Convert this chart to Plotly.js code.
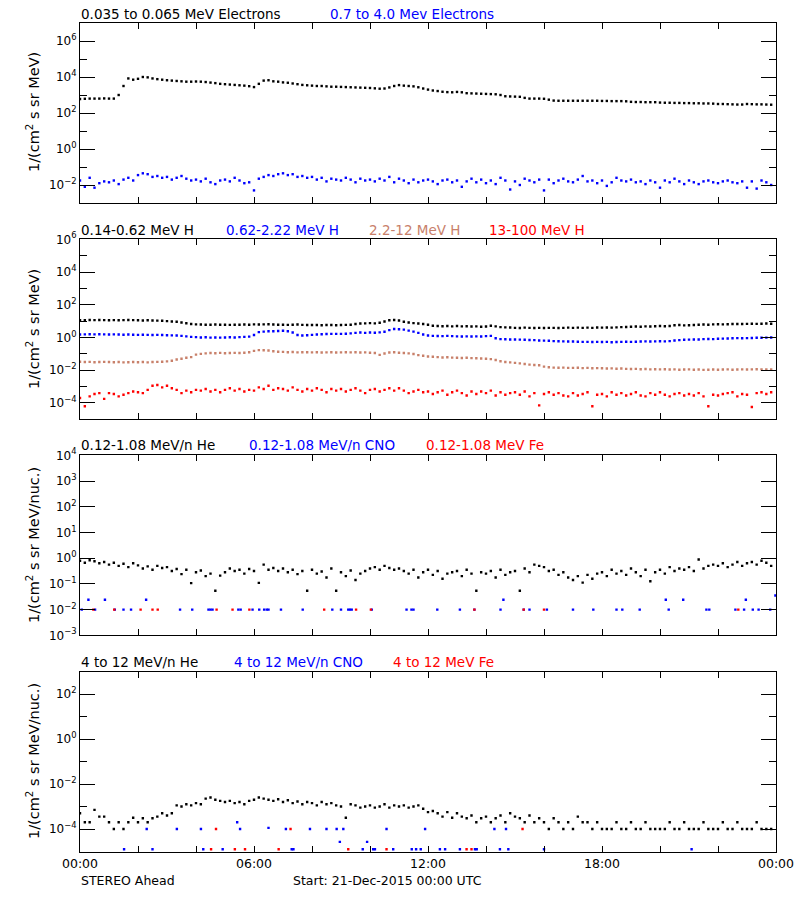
<!DOCTYPE html>
<html>
<head>
<meta charset="utf-8">
<script src="https://cdn.plot.ly/plotly-3.0.1.min.js"></script>
<style>html,body{margin:0;padding:0;background:#fff;}#chart{width:800px;height:900px;}</style>
</head>
<body>
<div id="chart"></div>
<script>
// ---- time grid: 10-minute samples, hours since 21-Dec-2015 00:00 UTC ----
const hours = Array.from({length: 144}, (_, i) => i / 6);

// ---- Panel 1: electrons, log10 flux ----
const eLowLog = [
 2.78,2.79,2.80,2.80,2.80,2.81, 2.80,2.80,3.00,3.50,3.92,3.85,
 3.90,4.00,3.98,3.92,3.88,3.85, 3.82,3.80,3.78,3.76,3.74,3.74,
 3.75,3.74,3.72,3.69,3.66,3.62, 3.60,3.58,3.56,3.54,3.52,3.49,
 3.44,3.62,3.80,3.82,3.76,3.74, 3.70,3.68,3.64,3.60,3.56,3.54,
 3.52,3.50,3.50,3.48,3.46,3.46, 3.45,3.44,3.43,3.42,3.41,3.40,
 3.39,3.37,3.35,3.36,3.42,3.50, 3.55,3.52,3.50,3.48,3.43,3.36,
 3.30,3.25,3.22,3.18,3.16,3.15, 3.17,3.15,3.10,3.09,3.08,3.07,
 3.06,3.05,3.04,3.00,2.93,2.92, 2.91,2.90,2.84,2.80,2.80,2.80,
 2.79,2.74,2.69,2.68,2.68,2.68, 2.68,2.68,2.68,2.68,2.68,2.68,
 2.67,2.67,2.66,2.66,2.66,2.65, 2.62,2.61,2.61,2.60,2.60,2.60,
 2.58,2.57,2.57,2.56,2.56,2.55, 2.55,2.54,2.54,2.53,2.53,2.52,
 2.50,2.50,2.49,2.48,2.47,2.47, 2.50,2.49,2.48,2.48,2.47,2.46
];
const eHighLog = [
 -1.75,-2.10,-1.60,-2.15,-1.90,-1.80, -1.85,-1.75,-1.95,-1.70,-1.60,-1.75,
 -1.45,-1.35,-1.40,-1.55,-1.50,-1.60, -1.55,-1.70,-1.60,-1.50,-1.65,-1.75,
 -1.70,-1.80,-1.65,-1.85,-1.95,-1.75, -1.70,-1.80,-1.60,-1.75,-1.90,-1.85,
 -2.30,-1.65,-1.55,-1.45,-1.50,-1.40, -1.35,-1.45,-1.40,-1.55,-1.50,-1.60,
 -1.55,-1.70,-1.60,-1.80,-1.65,-1.70, -1.75,-1.60,-1.70,-1.85,-1.65,-1.75,
 -1.70,-1.80,-1.65,-1.75,-1.55,-1.85, -1.65,-1.75,-1.90,-1.70,-1.85,-1.75,
 -1.70,-1.80,-1.95,-1.75,-1.70,-1.85, -1.75,-2.10,-1.80,-1.65,-1.85,-1.70,
 -1.90,-1.75,-1.95,-1.60,-1.75,-2.25, -1.80,-2.00,-1.65,-1.75,-1.85,-1.70,
 -2.30,-1.70,-1.90,-1.75,-1.65,-1.80, -1.85,-1.70,-1.50,-1.80,-1.75,-1.90,
 -1.75,-2.05,-1.85,-1.60,-1.75,-1.80, -1.70,-1.85,-1.80,-1.95,-1.75,-1.85,
 -2.15,-1.75,-1.85,-1.65,-1.80,-1.95, -1.75,-1.85,-1.95,-1.80,-1.75,-1.85,
 -1.90,-1.80,-1.75,-1.85,-1.90,-1.80, -2.15,-1.80,-2.20,-1.75,-1.85,-2.00
];

// ---- Panel 2: protons, log10 flux ----
const h1Log = [
 1.05,1.06,1.07,1.06,1.07,1.06, 1.05,1.06,1.05,1.06,1.07,1.06,
 1.05,1.04,1.05,1.04,1.03,1.02, 1.00,0.98,0.96,0.92,0.87,0.82,
 0.80,0.79,0.78,0.78,0.79,0.78, 0.78,0.77,0.78,0.78,0.79,0.78,
 0.80,0.79,0.80,0.81,0.79,0.78, 0.78,0.77,0.78,0.79,0.77,0.76,
 0.76,0.76,0.75,0.76,0.76,0.75, 0.76,0.77,0.78,0.82,0.85,0.86,
 0.88,0.86,0.90,0.98,1.05,1.07, 1.04,0.96,0.92,0.88,0.85,0.82,
 0.78,0.72,0.70,0.69,0.70,0.68, 0.70,0.68,0.69,0.67,0.68,0.66,
 0.67,0.72,0.68,0.63,0.62,0.61, 0.59,0.58,0.60,0.59,0.58,0.59,
 0.58,0.59,0.59,0.58,0.59,0.60, 0.59,0.60,0.59,0.60,0.59,0.61,
 0.60,0.61,0.60,0.62,0.63,0.64, 0.66,0.67,0.66,0.68,0.67,0.69,
 0.70,0.69,0.70,0.75,0.76,0.74, 0.75,0.76,0.78,0.79,0.78,0.80,
 0.81,0.80,0.81,0.82,0.82,0.82, 0.83,0.84,0.83,0.84,0.85,0.84
];
const h2Log = [
 0.18,0.19,0.20,0.19,0.20,0.19, 0.18,0.19,0.18,0.17,0.18,0.17,
 0.16,0.17,0.16,0.15,0.16,0.15, 0.14,0.13,0.12,0.10,0.07,0.04,
 0.02,0.00,0.01,-0.01,0.00,-0.01, 0.00,0.01,0.00,0.02,0.04,0.05,
 0.15,0.33,0.36,0.38,0.38,0.40, 0.41,0.38,0.30,0.15,0.12,0.14,
 0.16,0.18,0.20,0.21,0.22,0.22, 0.22,0.23,0.25,0.28,0.30,0.28,
 0.30,0.29,0.31,0.35,0.45,0.52, 0.50,0.48,0.42,0.36,0.28,0.18,
 0.12,0.10,0.09,0.08,0.10,0.08, 0.07,0.06,0.07,0.06,0.07,0.06,
 0.08,0.10,-0.05,-0.10,-0.11,-0.12, -0.12,-0.13,-0.14,-0.15,-0.16,-0.18,
 -0.19,-0.20,-0.22,-0.23,-0.24,-0.25, -0.25,-0.26,-0.27,-0.27,-0.28,-0.27,
 -0.28,-0.27,-0.29,-0.28,-0.27,-0.26, -0.27,-0.26,-0.25,-0.24,-0.25,-0.24,
 -0.23,-0.24,-0.22,-0.18,-0.16,-0.14, -0.13,-0.12,-0.12,-0.10,-0.09,-0.10,
 -0.08,-0.07,-0.06,-0.05,-0.04,-0.05, -0.04,-0.03,-0.02,-0.02,-0.01,0.00
];
const h3Log = [
 -1.48,-1.50,-1.49,-1.51,-1.50,-1.49, -1.50,-1.51,-1.50,-1.52,-1.51,-1.50,
 -1.51,-1.50,-1.52,-1.50,-1.49,-1.48, -1.46,-1.42,-1.35,-1.30,-1.24,-1.20,
 -1.05,-1.00,-0.97,-0.95,-0.96,-0.94, -0.96,-0.95,-0.94,-0.95,-0.93,-0.90,
 -0.82,-0.77,-0.78,-0.80,-0.84,-0.87, -0.88,-0.90,-0.89,-0.91,-0.90,-0.90,
 -0.91,-0.90,-0.92,-0.91,-0.90,-0.92, -0.91,-0.90,-0.91,-0.90,-0.92,-0.91,
 -0.93,-0.95,-1.06,-0.98,-0.92,-0.90, -0.93,-0.95,-0.97,-1.01,-1.08,-1.12,
 -1.16,-1.18,-1.20,-1.22,-1.21,-1.23, -1.24,-1.25,-1.24,-1.26,-1.27,-1.28,
 -1.30,-1.32,-1.38,-1.45,-1.50,-1.52, -1.55,-1.58,-1.62,-1.66,-1.68,-1.70,
 -1.78,-1.82,-1.84,-1.85,-1.84,-1.86, -1.86,-1.85,-1.87,-1.86,-1.88,-1.87,
 -1.88,-1.90,-1.89,-1.91,-1.90,-1.92, -1.93,-1.92,-1.94,-1.93,-1.95,-1.94,
 -1.95,-1.94,-1.96,-1.95,-1.97,-1.96, -1.95,-1.97,-1.96,-1.98,-1.97,-1.96,
 -1.97,-1.96,-1.95,-1.97,-1.96,-1.95, -1.96,-1.95,-1.94,-1.95,-1.96,-1.95
];
const h4Log = [
 -3.70,-4.20,-3.60,-3.45,-3.40,-3.75, -3.40,-3.45,-3.60,-3.50,-3.40,-3.30,
 -3.35,-3.40,-3.20,-2.95,-2.90,-3.05, -2.95,-3.10,-3.20,-3.40,-3.25,-3.35,
 -3.20,-3.25,-3.15,-3.30,-3.20,-3.35, -3.20,-3.10,-3.25,-3.15,-3.30,-3.20,
 -3.25,-3.05,-3.15,-2.95,-3.20,-3.10, -3.15,-3.25,-3.05,-3.20,-3.30,-3.15,
 -3.25,-3.10,-3.20,-3.35,-3.15,-3.25, -3.15,-3.30,-3.20,-3.10,-3.25,-3.40,
 -3.20,-3.15,-3.30,-3.20,-3.10,-3.25, -3.10,-3.25,-3.40,-3.30,-3.20,-3.35,
 -3.30,-3.45,-3.35,-3.25,-3.50,-3.35, -3.25,-3.40,-3.55,-3.30,-3.45,-3.30,
 -3.40,-3.25,-3.55,-3.35,-3.50,-3.40, -3.35,-3.50,-3.30,-3.60,-3.40,-4.15,
 -3.45,-3.35,-3.50,-3.40,-3.55,-3.60, -3.40,-3.55,-3.45,-3.35,-4.20,-3.50,
 -3.45,-3.60,-3.35,-3.50,-3.40,-3.55, -3.45,-3.35,-3.55,-3.60,-3.40,-3.50,
 -3.35,-3.50,-3.60,-3.45,-3.40,-3.55, -3.45,-3.55,-3.40,-3.60,-4.20,-3.50,
 -3.55,-3.45,-3.40,-3.35,-3.60,-3.45, -3.50,-4.25,-3.40,-3.35,-3.45,-3.35
];

// ---- Panel 3: 0.12-1.08 MeV/n ions, log10 flux ----
const heLowLog = [
 -0.10,-0.18,-0.08,-0.12,-0.20,-0.15, -0.25,-0.18,-0.30,-0.22,-0.35,-0.20,
 -0.28,-0.40,-0.32,-0.45,-0.30,-0.38, -0.35,-0.50,-0.42,-0.62,-0.45,-0.97,
 -0.55,-0.48,-0.70,-0.60,-1.27,-0.68, -0.55,-0.40,-0.50,-0.45,-0.60,-0.42,
 -0.50,-0.96,-0.25,-0.45,-0.38,-0.50, -0.40,-0.55,-0.45,-0.62,-0.50,-1.27,
 -0.45,-0.60,-0.52,-0.75,-0.40,-1.27, -0.55,-0.70,-0.48,-0.85,-0.60,-0.50,
 -0.40,-0.35,-0.45,-0.30,-0.38,-0.45, -0.40,-0.50,-0.60,-0.45,-0.75,-0.55,
 -0.45,-0.65,-0.50,-0.80,-0.60,-0.55, -0.50,-0.70,-0.45,-0.60,-1.27,-0.55,
 -0.60,-0.50,-0.75,-0.45,-0.65,-0.55, -0.50,-1.27,-0.40,-0.55,-0.25,-0.30,
 -0.35,-0.50,-0.45,-0.65,-0.55,-0.75, -0.85,-0.70,-0.95,-0.65,-0.80,-0.60,
 -0.55,-0.70,-0.45,-0.60,-0.50,-0.65, -0.40,-0.55,-0.70,-0.45,-0.90,-0.55,
 -0.45,-0.60,-0.35,-0.50,-0.40,-0.45, -0.35,-0.50,-0.05,-0.40,-0.30,-0.25,
 -0.30,-0.20,-0.35,-0.25,-0.15,-0.30, -0.20,-0.15,-0.25,-0.10,-0.18,-0.30
];
const cnoLowTimes = [
 0.06,0.29,0.52,0.86,1.20,1.50,1.76,2.28,
 3.45,3.87,4.43,4.50,4.57,5.46,5.54,5.95,
 6.18,6.35,6.44,6.50,6.93,7.68,8.70,9.00,
 9.25,9.31,9.37,10.06,11.26,11.43,11.50,12.32,
 13.10,13.60,14.50,14.60,15.30,15.50,16.10,17.00,
 17.70,18.50,18.70,19.30,20.20,20.30,20.80,21.60,
 21.70,22.60,22.90,22.96,23.20,23.40,23.80,23.98
];
const cnoLowLog = [
 -2,-1.62,-2,-1.62,-2,-2,-2,-1.62,
 -2,-2,-2,-2,-2,-2,-2,-2,
 -2,-2,-2,-2,-2,-2,-2,-2,
 -2,-2,-2,-2,-2,-2,-2,-2,
 -2,-2,-2,-1.62,-2,-2,-2,-2,
 -2,-2,-2,-2,-1.62,-2,-1.62,-2,
 -2,-2,-2,-1.62,-2,-2,-2,-1.45
];
const feLowTimes = [0.46,1.18,2.09,2.50,2.68,4.71,5.26,5.84,8.42,9.52,10.03,13.60,15.30,16.00,22.70];
const feLowLog   = [-2,-2,-2,-2,-2,-2,-2,-2,-2,-2,-2,-2,-2,-2,-2];

// ---- Panel 4: 4-12 MeV/n ions, log10 flux ----
const heHighLog = [
 -3.30,-3.70,-3.70,-3.15,-3.45,-3.45, -3.70,-4.00,-3.70,-4.00,-3.70,-3.50,
 -3.70,-3.52,-3.70,-3.52,-3.45,-3.30, -3.40,-3.30,-2.95,-3.00,-2.90,-2.95,
 -2.85,-2.90,-2.65,-2.60,-2.70,-2.75, -2.80,-2.75,-2.85,-2.80,-2.90,-2.75,
 -2.70,-2.60,-2.65,-2.70,-2.75,-2.68, -2.80,-2.72,-2.85,-2.78,-2.90,-2.80,
 -2.85,-2.95,-2.80,-2.90,-2.85,-2.95, -3.00,-3.50,-2.90,-2.95,-3.05,-3.00,
 -2.95,-3.05,-3.00,-2.90,-3.05,-2.95, -3.00,-2.95,-3.05,-3.00,-2.95,-3.10,
 -3.25,-3.20,-3.30,-3.45,-3.25,-3.50, -3.30,-3.45,-3.52,-3.40,-3.70,-3.52,
 -3.45,-3.70,-3.52,-3.40,-3.70,-3.30, -3.45,-3.52,-3.70,-3.40,-3.70,-3.52,
 -3.70,-4.00,-3.52,-3.70,-4.00,-3.70, -4.00,-3.45,-3.70,-3.70,-4.00,-3.70,
 -4.00,-4.00,-4.00,-3.70,-4.00,-4.00, -3.70,-4.00,-4.00,-3.70,-4.00,-4.00,
 -4.00,-4.00,-3.70,-4.00,-4.00,-3.70, -4.00,-4.00,-4.00,-3.70,-4.00,-4.00,
 -4.00,-3.70,-4.00,-4.00,-3.70,-4.00, -4.00,-4.00,-3.70,-4.00,-4.00,-4.00
];
const cnoHighTimes = [
 1.52,2.30,2.50,3.34,4.17,4.25,4.92,5.42,5.52,6.50,
 7.10,7.30,7.36,7.93,8.50,8.85,8.96,9.08,9.75,9.90,
 10.11,10.17,10.57,10.80,11.44,11.59,11.75,11.90,12.41,12.59,
 13.10,13.62,13.68,14.29,14.48,14.69,14.77,16.00,21.09
];
const cnoHighLog = [
 -4.9,-4,-4.9,-4,-4,-4.9,-4.9,-3.7,-4,-3.95,
 -4,-4.9,-4.9,-4,-4,-4,-4.57,-4,-4.9,-4.57,
 -4.9,-4.9,-4,-4.9,-4.9,-4.9,-4.9,-4,-4.9,-4.9,
 -4.9,-4.9,-4.9,-4,-4.9,-4,-4.9,-4.9,-4.9
];
const feHighTimes = [4.52,4.69,5.34,5.69,6.85,7.26,9.25,10.57,13.33,13.50,15.26];
const feHighLog   = [-4.9,-4,-4.9,-4.9,-4.9,-4,-4.9,-4.9,-4.9,-4.9,-4];

// ---- x ticks ----
const xLabelHours = [0, 6, 12, 18, 24];
const xLabelText  = ['00:00', '06:00', '12:00', '18:00', '00:00'];
const xMinorHours = [2, 4, 8, 10, 14, 16, 20, 22];

// ---- styling ----
const BLUE = '#0000ff', RED = '#ff0000', BROWN = '#c8806a', BLACK = '#000000';
const FONT = 'DejaVu Sans, sans-serif';
const pow = a => a.map(v => Math.pow(10, v));

function tr(x, logv, color, ax, size) {
  return {
    type: 'scatter', mode: 'markers', x: x, y: pow(logv),
    xaxis: 'x' + ax, yaxis: 'y' + ax,
    marker: {symbol: 'square', size: size || 2.4, color: color, line: {width: 0}},
    showlegend: false, hoverinfo: 'skip', cliponaxis: true
  };
}

const data = [
  tr(hours, eLowLog, BLACK, ''), tr(hours, eHighLog, BLUE, ''),
  tr(hours, h1Log, BLACK, '2'), tr(hours, h2Log, BLUE, '2'), tr(hours, h3Log, BROWN, '2'), tr(hours, h4Log, RED, '2'),
  tr(hours, heLowLog, BLACK, '3'), tr(cnoLowTimes, cnoLowLog, BLUE, '3'), tr(feLowTimes, feLowLog, RED, '3'),
  tr(hours, heHighLog, BLACK, '4'), tr(cnoHighTimes, cnoHighLog, BLUE, '4'), tr(feHighTimes, feHighLog, RED, '4')
];

function sup(e) { return '10<sup>' + (e < 0 ? '\u2212' + (-e) : e) + '</sup>'; }
function yax(domain, range, majors, minors, anchor) {
  return {
    type: 'log', domain: domain, range: range, anchor: anchor,
    tickmode: 'array', tickvals: majors.map(e => Math.pow(10, e)), ticktext: majors.map(sup),
    ticks: 'inside', ticklen: 15, tickwidth: 1, tickcolor: '#000',
    showline: true, linecolor: '#000', linewidth: 1, mirror: 'ticks',
    showgrid: false, zeroline: false,
    tickfont: {family: FONT, size: 12, color: '#000'},
    minor: {tickmode: 'array', tickvals: minors.map(e => Math.pow(10, e)), ticks: 'inside', ticklen: 7, tickwidth: 1, tickcolor: '#000', showgrid: false},
    fixedrange: true
  };
}
function xax(anchor, labels) {
  return {
    domain: [0.1, 0.97], range: [0, 24], anchor: anchor,
    tickmode: 'array', tickvals: xLabelHours, ticktext: xLabelText, showticklabels: labels,
    ticks: 'inside', ticklen: 6, tickwidth: 1, tickcolor: '#000',
    minor: {tickmode: 'array', tickvals: xMinorHours, ticks: 'inside', ticklen: 6, tickwidth: 1, tickcolor: '#000', showgrid: false},
    showline: true, linecolor: '#000', linewidth: 1, mirror: 'ticks',
    showgrid: false, zeroline: false,
    tickfont: {family: FONT, size: 12.5, color: '#000'},
    fixedrange: true
  };
}

function ann(text, xpx, ypx, color, extra) {
  return Object.assign({
    text: text, xref: 'paper', yref: 'paper', x: xpx / 800, y: 1 - ypx / 900,
    xanchor: 'left', yanchor: 'middle', showarrow: false,
    font: {family: FONT, size: 13.5, color: color}, borderpad: 0
  }, extra || {});
}
function ytitle(text, ypx) {
  return ann(text, 33, ypx, BLACK, {xanchor: 'center', textangle: -90, font: {family: FONT, size: 14.5, color: BLACK}});
}

const layout = {
  width: 800, height: 900,
  margin: {l: 0, r: 0, t: 0, b: 0},
  paper_bgcolor: '#fff', plot_bgcolor: '#fff',
  font: {family: FONT, color: '#000'},
  showlegend: false,
  xaxis:  xax('y', false),
  xaxis2: xax('y2', false),
  xaxis3: xax('y3', false),
  xaxis4: xax('y4', true),
  yaxis:  yax([1 - 203 / 900, 1 - 23 / 900], [-3, 7], [-2, 0, 2, 4, 6], [-1, 1, 3, 5], 'x'),
  yaxis2: yax([1 - 419.3 / 900, 1 - 239.3 / 900], [-5, 6], [-4, -2, 0, 2, 4, 6], [-3, -1, 1, 3, 5], 'x2'),
  yaxis3: yax([1 - 635.3 / 900, 1 - 455.3 / 900], [-3, 4], [-3, -2, -1, 0, 1, 2, 3, 4], [], 'x3'),
  yaxis4: yax([1 - 851.5 / 900, 1 - 671.5 / 900], [-5, 3], [-4, -2, 0, 2], [-3, -1, 1], 'x4'),
  annotations: [
    ann('0.035 to 0.065 MeV Electrons', 80, 13.5, BLACK),
    ann('0.7 to 4.0 Mev Electrons', 329, 13.5, BLUE),
    ann('0.14-0.62 MeV H', 80, 229.5, BLACK),
    ann('0.62-2.22 MeV H', 225, 229.5, BLUE),
    ann('2.2-12 MeV H', 368, 229.5, BROWN),
    ann('13-100 MeV H', 488, 229.5, RED),
    ann('0.12-1.08 MeV/n He', 80, 445, BLACK),
    ann('0.12-1.08 MeV/n CNO', 248, 445, BLUE),
    ann('0.12-1.08 MeV Fe', 425, 445, RED),
    ann('4 to 12 MeV/n He', 80, 661.5, BLACK),
    ann('4 to 12 MeV/n CNO', 233, 661.5, BLUE),
    ann('4 to 12 MeV Fe', 392, 661.5, RED),
    ann('STEREO Ahead', 80, 880.5, BLACK, {font: {family: FONT, size: 12.5, color: BLACK}}),
    ann('Start: 21-Dec-2015 00:00 UTC', 292, 880.5, BLACK, {font: {family: FONT, size: 12.5, color: BLACK}}),
    ytitle('1/(cm<sup>2</sup> s sr MeV)', 112),
    ytitle('1/(cm<sup>2</sup> s sr MeV)', 329),
    ytitle('1/(cm<sup>2</sup> s sr MeV/nuc.)', 545),
    ytitle('1/(cm<sup>2</sup> s sr MeV/nuc.)', 761)
  ]
};

Plotly.newPlot('chart', data, layout, {staticPlot: true, displayModeBar: false});
</script>
</body>
</html>
